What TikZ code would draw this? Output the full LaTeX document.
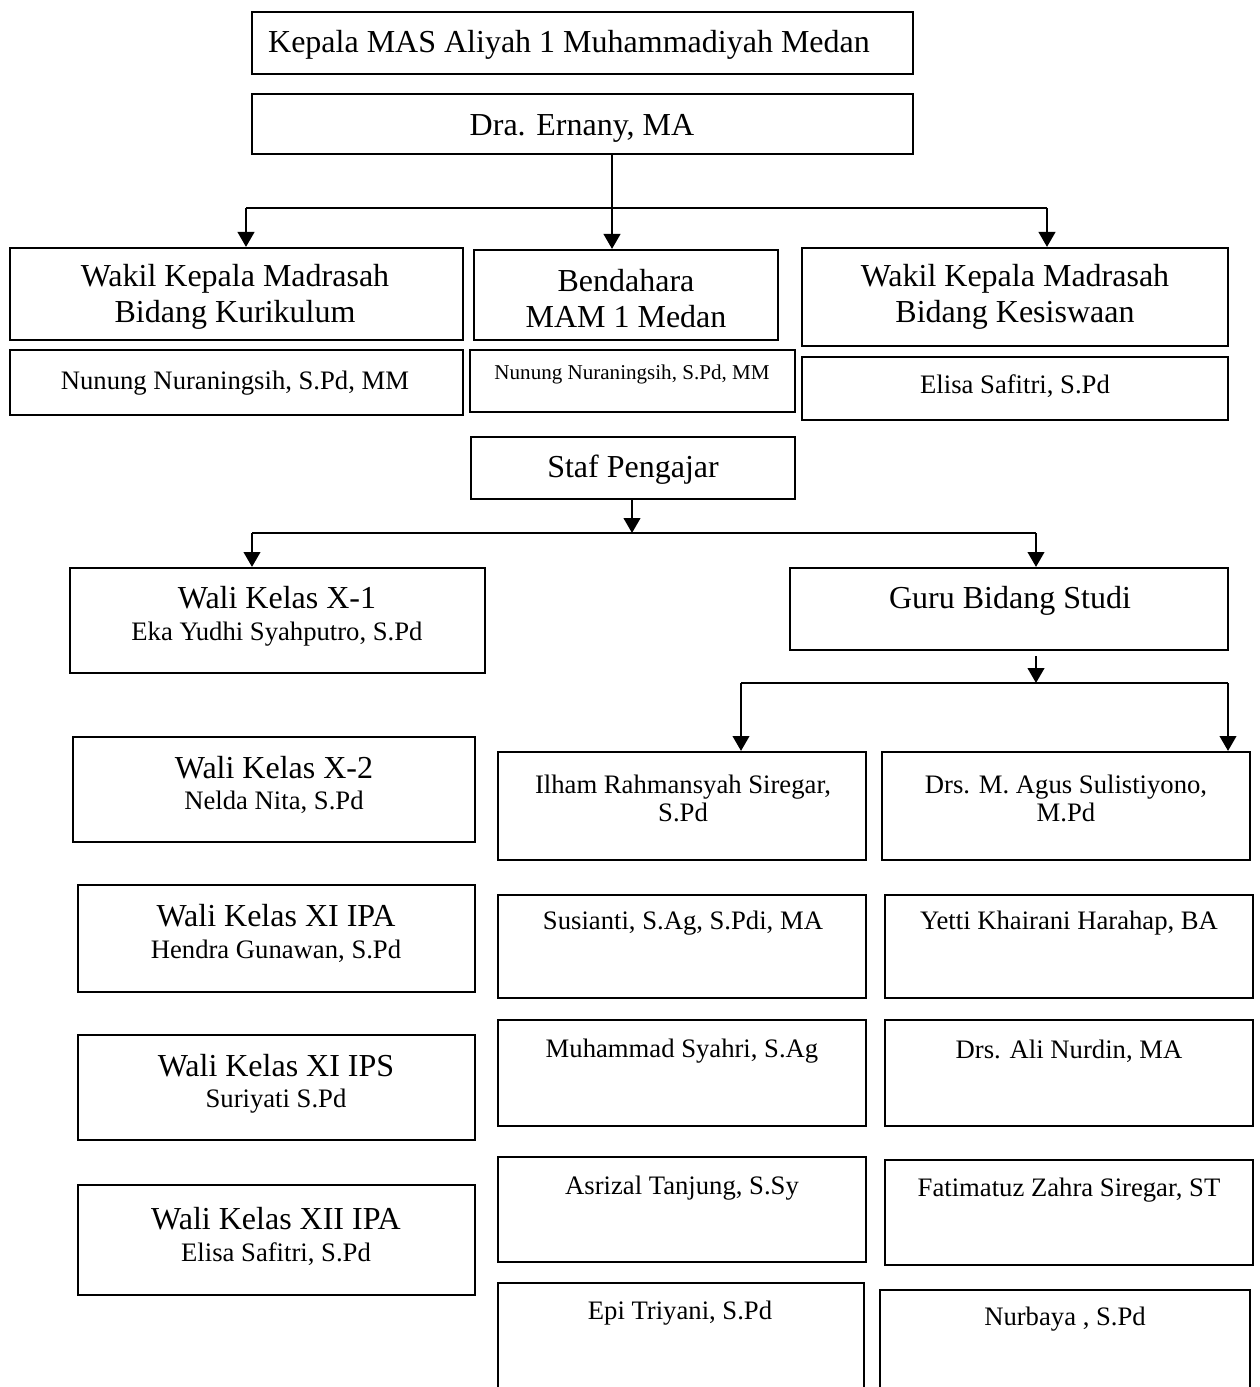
\documentclass[tikz,border=0pt]{standalone}
\usepackage{fontspec}
\setmainfont{Liberation Serif}
\usetikzlibrary{arrows.meta}
\newcommand\bx[5]{\node[box,minimum width={(#4-#2)*0.375pt},minimum height={(#5-#3)*0.375pt}] (#1) at ({(#2+#4)/2},{(#3+#5)/2}) {};}
\tikzset{
  box/.style={draw,line width=0.8pt,inner sep=0pt,rectangle},
  tl/.style={anchor=base,inner sep=0pt,font=\fontsize{12}{14}\selectfont},
  ts/.style={anchor=base,inner sep=0pt,font=\fontsize{10}{12}\selectfont},
  tt/.style={anchor=base,inner sep=0pt,font=\fontsize{7.9}{9}\selectfont},
  ln/.style={line width=0.9pt},
  arr/.style={line width=0.9pt,-{Triangle[length=5.6pt,width=6.2pt]}}
}
\begin{document}
\begin{tikzpicture}[x=0.375pt,y=-0.375pt]
\useasboundingbox (0,0) rectangle (1260,1387);
\clip (0,0) rectangle (1260,1387);
% boxes
\bx{kep}{252}{12}{913}{74}
\bx{dra}{252}{94}{913}{154}
\bx{wk}{10}{248}{463}{340}
\bx{bend}{474}{250}{778}{340}
\bx{wks}{802}{248}{1228}{346}
\bx{nn1}{10}{350}{463}{415}
\bx{nn2}{470}{350}{795}{412}
\bx{eli}{802}{357}{1228}{420}
\bx{staf}{471}{437}{795}{499}
\bx{w1}{70}{568}{485}{673}
\bx{guru}{790}{568}{1228}{650}
\bx{w2}{73}{737}{475}{842}
\bx{w3}{78}{885}{475}{992}
\bx{w4}{78}{1035}{475}{1140}
\bx{w5}{78}{1185}{475}{1295}
\bx{a1}{498}{752}{866}{860}
\bx{a2}{498}{895}{866}{998}
\bx{a3}{498}{1020}{866}{1126}
\bx{a4}{498}{1157}{866}{1262}
\bx{a5}{498}{1283}{864}{1420}
\bx{b1}{882}{752}{1250}{860}
\bx{b2}{885}{895}{1253}{998}
\bx{b3}{885}{1020}{1253}{1126}
\bx{b4}{885}{1160}{1253}{1265}
\bx{b5}{880}{1290}{1250}{1420}
% texts
\node[tl] (tkep) at (569,53) {Kepala MAS Aliyah 1 Muhammadiyah Medan};
\node[tl] (tdra) at (582,136) {Dra. Ernany, MA};
\node[tl] (twk1) at (235,286) {Wakil Kepala Madrasah};
\node[tl] (twk2) at (235,323) {Bidang Kurikulum};
\node[tl] (tbe1) at (626,291) {Bendahara};
\node[tl] (tbe2) at (626,328) {MAM 1 Medan};
\node[tl] (tws1) at (1015,286) {Wakil Kepala Madrasah};
\node[tl] (tws2) at (1015,323) {Bidang Kesiswaan};
\node[ts] (tnn1) at (235,389) {Nunung Nuraningsih, S.Pd, MM};
\node[tt] (tnn2) at (632,379) {Nunung Nuraningsih, S.Pd, MM};
\node[ts] (teli) at (1015,393) {Elisa Safitri, S.Pd};
\node[tl] (tstaf) at (633,477) {Staf Pengajar};
\node[tl] (tw1a) at (277,608) {Wali Kelas X-1};
\node[ts] (tw1b) at (277,640) {Eka Yudhi Syahputro, S.Pd};
\node[tl] (tguru) at (1010,608) {Guru Bidang Studi};
\node[tl] (tw2a) at (274,778) {Wali Kelas X-2};
\node[ts] (tw2b) at (274,809) {Nelda Nita, S.Pd};
\node[tl] (tw3a) at (276,926) {Wali Kelas XI IPA};
\node[ts] (tw3b) at (276,958) {Hendra Gunawan, S.Pd};
\node[tl] (tw4a) at (276,1076) {Wali Kelas XI IPS};
\node[ts] (tw4b) at (276,1107) {Suriyati S.Pd};
\node[tl] (tw5a) at (276,1229) {Wali Kelas XII IPA};
\node[ts] (tw5b) at (276,1261) {Elisa Safitri, S.Pd};
\node[ts] (ta1a) at (683,793) {Ilham Rahmansyah Siregar,};
\node[ts] (ta1b) at (683,821) {S.Pd};
\node[ts] (tb1a) at (1066,793) {Drs. M. Agus Sulistiyono,};
\node[ts] (tb1b) at (1066,821) {M.Pd};
\node[ts] (ta2) at (683,929) {Susianti, S.Ag, S.Pdi, MA};
\node[ts] (tb2) at (1069,929) {Yetti Khairani Harahap, BA};
\node[ts] (ta3) at (682,1057) {Muhammad Syahri, S.Ag};
\node[ts] (tb3) at (1069,1058) {Drs. Ali Nurdin, MA};
\node[ts] (ta4) at (682,1194) {Asrizal Tanjung, S.Sy};
\node[ts] (tb4) at (1069,1196) {Fatimatuz Zahra Siregar, ST};
\node[ts] (ta5) at (680,1319) {Epi Triyani, S.Pd};
\node[ts] (tb5) at (1065,1325) {Nurbaya , S.Pd};
% connectors
\coordinate (h1L) at (246,208);
\coordinate (h1M) at (612,208);
\coordinate (h1R) at (1047,208);
\draw[ln] (dra.south -| h1M) -- (h1M);
\draw[ln] (h1L) -- (h1R);
\draw[arr] (h1L) -- (wk.north -| h1L);
\draw[arr] (h1M) -- (bend.north -| h1M);
\draw[arr] (h1R) -- (wks.north -| h1R);
\coordinate (h2L) at (252,533);
\coordinate (h2M) at (632,533);
\coordinate (h2R) at (1036,533);
\draw[arr] (staf.south -| h2M) -- (h2M);
\draw[ln] (h2L) -- (h2R);
\draw[arr] (h2L) -- (w1.north -| h2L);
\draw[arr] (h2R) -- (guru.north -| h2R);
\coordinate (g0) at (1036,656);
\coordinate (h3M) at (1036,683);
\coordinate (h3L) at (741,683);
\coordinate (h3R) at (1228,683);
\draw[arr] (g0) -- (h3M);
\draw[ln] (h3L) -- (h3R);
\draw[arr] (h3L) -- (a1.north -| h3L);
\draw[arr] (h3R) -- (b1.north -| h3R);
\end{tikzpicture}
\end{document}
